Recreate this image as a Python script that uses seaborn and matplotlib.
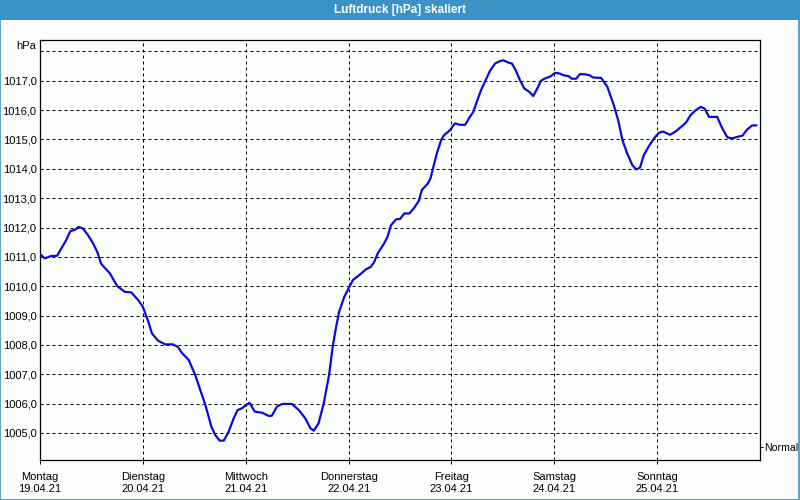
import matplotlib
matplotlib.use("Agg")
import matplotlib.pyplot as plt
import matplotlib.patches as mpatches
import seaborn as sns
import pandas as pd

# ---- data (hours since Monday 19.04.21 00:00, pressure in hPa) ----
hours = [0, 1.1, 2.6, 4.0, 5.0, 6.1, 7.1, 8.1, 9.0, 10.0, 11.2, 12.4, 13.5, 14.2,
         15.1, 16.3, 18.0, 19.8, 21.3, 22.9, 24.0, 25.4, 26.1, 27.5, 29.2, 31.0,
         32.2, 33.1, 34.7, 36.2, 37.4, 38.6, 40.0, 40.9, 41.9, 42.9, 44.0, 45.2,
         46.1, 47.1, 48.1, 48.9, 50.1, 51.8, 53.4, 54.1, 55.3, 56.5, 58.8, 60.4,
         61.9, 63.1, 63.9, 65.0, 66.2, 67.1, 67.5, 68.3, 69.1, 69.8, 71.0, 72.2,
         73.0, 74.5, 76.1, 77.2, 78.0, 78.8, 80.3, 81.1, 81.9, 83.1, 84.0, 85.0,
         86.2, 87.3, 88.4, 89.1, 90.5, 91.1, 91.8, 92.6, 93.6, 94.3, 95.7, 96.8,
         98.0, 99.2, 100.3, 101.1, 101.9, 102.9, 103.8, 105.0, 106.2, 107.3, 108.1,
         109.3, 110.1, 111.0, 112.0, 113.0, 114.2, 115.1, 115.9, 116.9, 117.8,
         119.0, 120.2, 121.2, 122.1, 123.3, 124.1, 125.1, 126.0, 127.2, 128.2,
         129.1, 130.9, 131.6, 132.4, 133.2, 133.9, 134.9, 135.9, 137.0, 138.2,
         139.1, 140.0, 140.9, 142.1, 143.3, 144.4, 145.4, 147.0, 148.3, 149.5,
         150.7, 151.8, 153.0, 154.2, 155.1, 156.1, 158.0, 159.2, 160.4, 161.5,
         162.7, 163.9, 165.0, 166.2, 167.2]
pressure = [1011.10, 1010.95, 1011.03, 1011.04, 1011.29, 1011.57, 1011.88, 1011.92,
            1012.02, 1011.97, 1011.74, 1011.46, 1011.12, 1010.78, 1010.63, 1010.44,
            1010.01, 1009.81, 1009.79, 1009.53, 1009.30, 1008.74, 1008.40, 1008.15,
            1008.02, 1008.02, 1007.93, 1007.73, 1007.49, 1006.98, 1006.46, 1005.95,
            1005.21, 1004.93, 1004.74, 1004.74, 1005.04, 1005.50, 1005.78, 1005.84,
            1005.95, 1006.03, 1005.73, 1005.69, 1005.58, 1005.59, 1005.90, 1005.99,
            1005.99, 1005.78, 1005.50, 1005.16, 1005.08, 1005.33, 1006.01, 1006.70,
            1007.03, 1007.94, 1008.62, 1009.13, 1009.64, 1009.98, 1010.21, 1010.38,
            1010.58, 1010.66, 1010.83, 1011.12, 1011.46, 1011.69, 1012.08, 1012.28,
            1012.29, 1012.48, 1012.48, 1012.67, 1012.91, 1013.28, 1013.50, 1013.67,
            1014.07, 1014.53, 1014.98, 1015.15, 1015.32, 1015.55, 1015.50, 1015.50,
            1015.77, 1015.94, 1016.28, 1016.68, 1016.96, 1017.34, 1017.59, 1017.67,
            1017.70, 1017.62, 1017.59, 1017.36, 1017.02, 1016.74, 1016.62, 1016.48,
            1016.70, 1017.00, 1017.08, 1017.14, 1017.27, 1017.25, 1017.19, 1017.16,
            1017.07, 1017.07, 1017.23, 1017.22, 1017.19, 1017.11, 1017.10, 1016.96,
            1016.79, 1016.45, 1016.17, 1015.66, 1014.98, 1014.53, 1014.13, 1013.98,
            1014.04, 1014.47, 1014.78, 1015.04, 1015.23, 1015.27, 1015.16, 1015.27,
            1015.42, 1015.57, 1015.83, 1016.00, 1016.11, 1016.05, 1015.77, 1015.77,
            1015.38, 1015.07, 1015.04, 1015.09, 1015.13, 1015.34, 1015.48, 1015.48]

day_names = ["Montag", "Dienstag", "Mittwoch", "Donnerstag", "Freitag", "Samstag", "Sonntag"]
day_dates = ["19.04.21", "20.04.21", "21.04.21", "22.04.21", "23.04.21", "24.04.21", "25.04.21"]
day_hours = [0, 24, 48, 72, 96, 120, 144]
y_ticks = [1005, 1006, 1007, 1008, 1009, 1010, 1011, 1012, 1013, 1014, 1015, 1016, 1017]
y_grid = y_ticks + [1018]
normal_level = 1004.53
title = "Luftdruck [hPa] skaliert"

df = pd.DataFrame({"hours": hours, "pressure": pressure})

# ---- style ----
sns.set_theme(style="white")
plt.rcParams["font.family"] = ["Liberation Sans", "DejaVu Sans"]
FS = 8

fig = plt.figure(figsize=(8, 5), dpi=100)
fig.patch.set_facecolor("#FCFEFC")
ax = fig.add_axes([0.05, 0.08, 0.90, 0.84])
ax.set_facecolor("#FCFEFC")

# grid lines
for gy in y_grid:
    ax.axhline(gy, color="black", lw=0.72, ls=(0, (3, 3)), zorder=1)
for gx in day_hours[1:]:
    ax.axvline(gx, color="black", lw=0.72, ls=(0, (3, 3)), zorder=1)

sns.lineplot(data=df, x="hours", y="pressure", ax=ax, color="#0A0ADC",
             lw=1.6, zorder=3, estimator=None, sort=False)

ax.set_xlim(0, 168)
ax.set_ylim(1004.08, 1018.39)
ax.set_xlabel("")
ax.set_ylabel("")

ax.set_yticks(y_ticks)
ax.set_yticklabels([f"{v},0" for v in y_ticks], fontsize=FS, color="black")
ax.tick_params(axis="y", length=0, pad=2.5)

ax.set_xticks(day_hours)
ax.set_xticklabels([f"{n}\n{d}" for n, d in zip(day_names, day_dates)],
                   fontsize=FS, color="black", linespacing=1.25)
ax.tick_params(axis="x", length=3, width=0.72, direction="out", pad=6,
               color="black", bottom=True)

for s in ax.spines.values():
    s.set_color("black")
    s.set_linewidth(0.9)
    s.set_visible(True)

ax.text(-0.005, 0.986, "hPa", transform=ax.transAxes, ha="right", va="center",
        fontsize=FS, color="black")

# right axis with "Normal" marker
ax2 = ax.twinx()
ax2.set_ylim(ax.get_ylim())
ax2.set_yticks([normal_level])
ax2.set_yticklabels(["Normal"], fontsize=7.6, color="black")
ax2.tick_params(axis="y", length=2.5, width=0.72, direction="out", pad=0.3, color="black", right=True)
ax2.grid(False)
for s in ax2.spines.values():
    s.set_visible(False)

# title bar and window frame
fig.patches.append(mpatches.Rectangle((0, 0.96), 1, 0.04, transform=fig.transFigure,
                                      facecolor="#3C92C4", edgecolor="none", zorder=0))
fig.patches.append(mpatches.Rectangle((0.0006, 0.001), 0.9982, 0.998, transform=fig.transFigure,
                                      facecolor="none", edgecolor="#3C92C4", lw=1.2, zorder=0))
fig.text(0.5, 0.981, title, ha="center", va="center", color="white",
         fontsize=8.5, fontweight="bold")

fig.savefig("out.png", dpi=100, facecolor=fig.get_facecolor())
